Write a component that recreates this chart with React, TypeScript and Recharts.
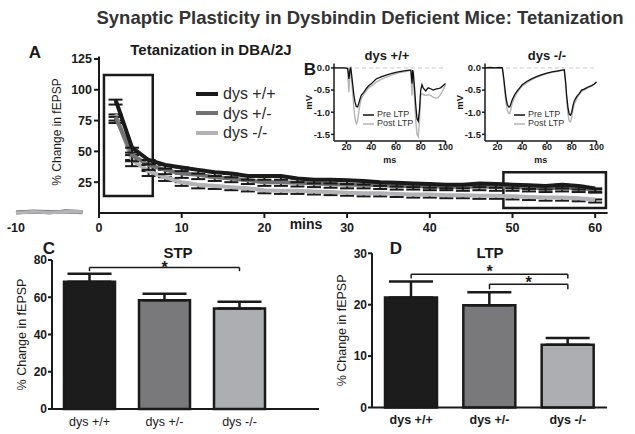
import type { ReactNode } from 'react'
import {
  LineChart, Line, BarChart, Bar, Cell, XAxis, YAxis,
  ErrorBar, ReferenceLine, ReferenceArea, Legend,
} from 'recharts'

const FONT = '"Liberation Sans", Arial, Helvetica, sans-serif'
const INK = '#1a1a1a'

// Panel A: % change in fEPSP, baseline (before tetanus) and after tetanus, minutes
const BASE_MINUTES = [-10, -8, -6, -4, -2]
const WT_BASE = [0.5, 1, 0.5, 1.5, 1]
const HET_BASE = [0.5, 1.5, 1, 1, 0.5]
const KO_BASE = [0, 1, 0.5, 1, 1]

const MINUTES = [2, 4, 6, 8, 10, 12, 14, 16, 18, 20, 22, 24, 26, 28, 30, 32, 34, 36, 38, 40, 42, 44, 46, 48, 50, 52, 54, 56, 58, 60]
const WT_CHANGE = [92, 53, 43, 39, 37, 35, 33, 32, 30, 30, 30, 28, 27, 27, 26.5, 26, 25, 24.5, 24, 23.5, 23, 23, 24, 23.5, 23, 22.5, 22, 23, 22, 20]
const HET_CHANGE = [78, 47, 39, 35, 32, 31, 29, 28, 26.5, 25, 25, 24.5, 24, 23.5, 23, 23, 22.5, 22, 22, 21.5, 21.5, 21, 21.5, 21, 21, 20.5, 20, 20.5, 20, 19]
const KO_CHANGE = [80, 43, 34, 29, 25, 23, 22, 21, 20, 18.5, 18, 18, 17.5, 17, 16.5, 16, 16, 15.5, 15, 15, 14.5, 14.5, 14, 14, 13.5, 13, 12.5, 12.5, 12, 11]
const WT_SEM = [4, 4, 3.5, 3, 3, 3, 3, 3, 3, 3, 3, 3, 3, 3, 3, 3, 3, 3, 3, 3, 3, 3, 3, 3, 3, 3, 3, 3, 3, 3]
const HET_SEM = [5, 5, 4, 3.5, 3.5, 3.5, 3, 3, 3, 3, 3, 3, 3, 3, 3, 3, 3, 3, 3, 3, 3, 3, 3, 3, 3, 3, 3, 3, 3, 2.5]
const KO_SEM = [5, 5, 4, 3, 3, 3, 2.5, 2.5, 2.5, 2.5, 2.5, 2.5, 2.5, 2.5, 2.5, 2.5, 2.5, 2.5, 2.5, 2.5, 2.5, 2.5, 2.5, 2.5, 2.5, 2.5, 2.5, 2.5, 2.5, 2.5]
const A_X_TICKS = [0, 10, 20, 30, 40, 50, 60]
const A_Y_TICKS = [25, 50, 75, 100, 125]

// Panel B: example traces (ms, mV)
const WT_TRACE_MS = [10, 14, 18, 21, 21.5, 22, 22.5, 23, 23.5, 24, 25, 26, 27, 28, 29, 30, 31, 32, 34, 36, 38, 40, 44, 48, 52, 56, 60, 64, 68, 71, 72, 72.5, 73, 73.5, 74, 75, 76, 77, 78, 79, 80, 81, 82, 84, 86, 88, 90, 92, 94, 96, 98, 100]
const WT_PRE = [0, 0, 0, -0.01, -0.1, -0.25, -0.15, -0.02, 0, -0.1, -0.35, -0.6, -0.78, -0.87, -0.88, -0.8, -0.7, -0.62, -0.55, -0.47, -0.4, -0.36, -0.25, -0.2, -0.16, -0.13, -0.1, -0.08, -0.06, -0.05, -0.05, -0.2, -0.35, -0.05, -0.1, -0.45, -0.85, -1.15, -1.2, -0.95, -0.5, -0.38, -0.45, -0.52, -0.45, -0.47, -0.5, -0.48, -0.47, -0.45, -0.4, -0.35]
const WT_POST = [0, 0, 0, -0.02, -0.3, -0.55, -0.3, -0.05, 0, -0.2, -0.55, -0.9, -1.15, -1.26, -1.2, -1.0, -0.82, -0.7, -0.6, -0.52, -0.45, -0.41, -0.32, -0.26, -0.21, -0.17, -0.13, -0.1, -0.08, -0.06, -0.06, -0.35, -0.62, -0.1, -0.2, -0.7, -1.2, -1.5, -1.55, -1.2, -0.62, -0.58, -0.6, -0.62, -0.6, -0.62, -0.66, -0.68, -0.67, -0.6, -0.5, -0.38]
const KO_TRACE_MS = [10, 14, 18, 22, 24, 25, 26, 27, 28, 29, 30, 31, 32, 34, 36, 38, 40, 44, 48, 52, 56, 60, 64, 68, 72, 74, 75, 76, 77, 78, 79, 80, 81, 82, 84, 86, 88, 90, 92, 94, 96, 98, 100]
const KO_PRE = [0, 0.01, 0, 0.01, 0, -0.2, -0.45, -0.68, -0.82, -0.88, -0.88, -0.8, -0.72, -0.6, -0.52, -0.45, -0.38, -0.3, -0.24, -0.19, -0.15, -0.12, -0.09, -0.07, -0.05, -0.04, -0.3, -0.65, -0.9, -1.05, -1.07, -1.0, -0.85, -0.75, -0.65, -0.58, -0.5, -0.48, -0.45, -0.42, -0.4, -0.37, -0.32]
const KO_POST = [0, 0, 0, 0, 0, -0.25, -0.55, -0.8, -0.95, -1.02, -1.03, -0.92, -0.8, -0.66, -0.56, -0.48, -0.41, -0.33, -0.26, -0.21, -0.17, -0.13, -0.1, -0.08, -0.06, -0.05, -0.35, -0.75, -1.05, -1.2, -1.22, -1.12, -0.95, -0.82, -0.7, -0.6, -0.53, -0.5, -0.47, -0.44, -0.41, -0.37, -0.31]

// Panels C and D: bar summaries
const GENOTYPES = ['dys +/+', 'dys +/-', 'dys -/-']
const GENO_COLORS = ['#1c1c1c', '#79797b', '#adaeb1']
const STP_MEAN = [68.3, 58.4, 54]
const STP_SEM = [4.3, 3.5, 3.6]
const LTP_MEAN = [21.4, 19.9, 12.2]
const LTP_SEM = [3.1, 2.5, 1.3]

const SERIES = [
  { key: 'wt', name: 'dys +/+', color: '#1a1a1a' },
  { key: 'het', name: 'dys +/-', color: '#727274' },
  { key: 'ko', name: 'dys -/-', color: '#b3b3b5' },
]

const baseRows = BASE_MINUTES.map((t, i) => ({ t, wt: WT_BASE[i], het: HET_BASE[i], ko: KO_BASE[i] }))
// error bars drawn downward only (upper half hides under the thick line)
const courseRows = MINUTES.map((t, i) => ({
  t,
  wt: WT_CHANGE[i], het: HET_CHANGE[i], ko: KO_CHANGE[i],
  wtErr: [WT_SEM[i], 0], hetErr: [HET_SEM[i], 0], koErr: [KO_SEM[i], 0],
}))
const wtTrace = WT_TRACE_MS.map((t, i) => ({ t, pre: WT_PRE[i], post: WT_POST[i] }))
const koTrace = KO_TRACE_MS.map((t, i) => ({ t, pre: KO_PRE[i], post: KO_POST[i] }))
const stpRows = GENOTYPES.map((g, i) => ({ g, mean: STP_MEAN[i], err: [0, STP_SEM[i]] }))
const ltpRows = GENOTYPES.map((g, i) => ({ g, mean: LTP_MEAN[i], err: [0, LTP_SEM[i]] }))

function Txt({ x, y, size, bold, rotate, color, children }: {
  x: number; y: number; size: number; bold?: boolean; rotate?: number; color?: string; children: ReactNode
}) {
  return (
    <div style={{
      position: 'absolute', left: x, top: y, fontSize: size, lineHeight: 1,
      fontWeight: bold ? 'bold' : 'normal', color: color || INK, whiteSpace: 'nowrap',
      transform: `translate(-50%, -50%) rotate(${rotate || 0}deg)`,
    }}>
      {children}
    </div>
  )
}

function MinuteTick(props: any) {
  const { x, y, payload } = props
  return (
    <text x={x} y={y} dy={12} textAnchor="middle" fontSize={12.5} fontWeight="bold" fill={INK}>
      {payload.value}
    </text>
  )
}

function PercentTick(props: any) {
  const { x, y, payload } = props
  return (
    <text x={x} y={y} dy={4.5} textAnchor="end" fontSize={12.5} fontWeight="bold" fill={INK}>
      {payload.value}
    </text>
  )
}

function CourseLegend() {
  return (
    <div>
      {SERIES.map((s) => (
        <div key={s.key} style={{ display: 'flex', alignItems: 'center', height: 19.5, lineHeight: '19.5px' }}>
          <svg width={27} height={8}><line x1={0} x2={22} y1={4} y2={4} stroke={s.color} strokeWidth={4} /></svg>
          <span style={{ fontSize: 16, color: '#2a2a2a' }}>{s.name}</span>
        </div>
      ))}
    </div>
  )
}

function TraceLegend() {
  return (
    <div>
      {[['Pre LTP', '#111'], ['Post LTP', '#b5b5b5']].map(([label, c]) => (
        <div key={label} style={{ display: 'flex', alignItems: 'center', height: 9, lineHeight: '9px' }}>
          <svg width={14} height={4}><line x1={0} x2={11} y1={2} y2={2} stroke={c} strokeWidth={1.5} /></svg>
          <span style={{ fontSize: 9, color: '#333' }}>{label}</span>
        </div>
      ))}
    </div>
  )
}

function TraceChart({ rows, left }: { rows: any[]; left: number }) {
  return (
    <div style={{ position: 'absolute', left, top: 55 }}>
      <LineChart width={158} height={118} data={rows} margin={{ top: 8.5, right: 12.5, bottom: 2, left: 6 }}>
        <XAxis
          type="number" dataKey="t" domain={[10, 100]} ticks={[20, 40, 60, 80, 100]}
          tickSize={3} tickMargin={0} height={30} interval={0}
          axisLine={{ stroke: INK, strokeWidth: 1.5 }} tickLine={{ stroke: INK, strokeWidth: 1.5 }}
          tick={{ fontSize: 9, fontWeight: 'bold', fill: INK }}
          label={{ value: 'ms', position: 'insideBottom', offset: 8, fontSize: 9, fontWeight: 'bold', fill: INK }}
        />
        <YAxis
          type="number" domain={[-1.65, 0.1]} ticks={[-1.5, -1, -0.5, 0]} interval={0}
          tickFormatter={(v: number) => v.toFixed(1)} width={28} tickSize={3} tickMargin={1}
          axisLine={{ stroke: INK, strokeWidth: 1.5 }} tickLine={{ stroke: INK, strokeWidth: 1.5 }}
          tick={{ fontSize: 9.5, fontWeight: 'bold', fill: INK }}
          label={{ value: 'mV', angle: -90, position: 'insideLeft', offset: 3, fontSize: 9.5, fontWeight: 'bold', fill: INK, style: { textAnchor: 'middle' } }}
        />
        <ReferenceLine y={0} stroke="#c8c8c8" strokeDasharray="4 3" />
        <Line dataKey="post" stroke="#b5b5b5" strokeWidth={1.4} dot={false} isAnimationActive={false} />
        <Line dataKey="pre" stroke="#111" strokeWidth={1.3} dot={false} isAnimationActive={false} />
        <Legend
          layout="vertical" align="center" verticalAlign="middle" content={() => <TraceLegend />}
          wrapperStyle={{ left: 63, top: 55, width: 'auto', right: 'auto', bottom: 'auto' }}
        />
      </LineChart>
    </div>
  )
}

const yTickStyle = { fontSize: 12, fontWeight: 'bold', fill: INK }
const starLabel = (offset: number) => ({ value: '*', position: 'top' as const, offset, fontSize: 16, fontWeight: 'bold', fill: INK })

export default function App() {
  return (
    <div style={{ position: 'absolute', left: 0, top: 0, width: 635, height: 434, background: '#fff', fontFamily: FONT }}>
      {/* A, baseline minutes left of the y axis (same y scale as the main panel) */}
      <div style={{ position: 'absolute', left: 0, top: 0 }}>
        <LineChart width={99} height={245} data={baseRows} margin={{ top: 56.5, right: 0, bottom: 2, left: 16 }}>
          <XAxis
            type="number" dataKey="t" domain={[-10, 0]} ticks={[-10]} interval={0}
            axisLine={false} tickLine={false} tickSize={5} tickMargin={2} height={30}
            tick={<MinuteTick />}
          />
          <YAxis hide type="number" domain={[0, 127]} />
          {SERIES.map((s) => (
            <Line key={s.key} type="linear" dataKey={s.key} stroke={s.color} strokeWidth={3.5} dot={false} isAnimationActive={false} />
          ))}
        </LineChart>
      </div>

      {/* A: time course after tetanus */}
      <div style={{ position: 'absolute', left: 0, top: 0 }}>
        <LineChart width={635} height={245} data={courseRows} margin={{ top: 56.5, right: 27.4, bottom: 2, left: 69 }}>
          <XAxis
            type="number" dataKey="t" domain={[0, 61.5]} ticks={A_X_TICKS} interval={0}
            axisLine={{ stroke: INK, strokeWidth: 2 }} tickLine={{ stroke: INK, strokeWidth: 2 }}
            tickSize={5} tickMargin={2} height={30} tick={<MinuteTick />}
          />
          <YAxis
            type="number" domain={[0, 127]} ticks={A_Y_TICKS} interval={0} width={30} tickSize={5} tickMargin={2}
            axisLine={{ stroke: INK, strokeWidth: 2 }} tickLine={{ stroke: INK, strokeWidth: 2 }}
            tick={<PercentTick />}
          />
          <ReferenceArea x1={0.6} x2={6.5} y1={13.7} y2={112} fill="none" stroke={INK} strokeWidth={2.5} />
          <ReferenceArea x1={48.9} x2={61.3} y1={4} y2={33} fill="none" stroke={INK} strokeWidth={2.5} />
          {[...SERIES].reverse().map((s) => (
            <Line key={s.key} type="linear" dataKey={s.key} stroke={s.color} strokeWidth={4} dot={false} isAnimationActive={false}>
              <ErrorBar dataKey={`${s.key}Err`} direction="y" width={7} strokeWidth={2} stroke={INK} />
            </Line>
          ))}
          <Legend
            layout="vertical" align="center" verticalAlign="middle" content={() => <CourseLegend />}
            wrapperStyle={{ left: 196, top: 84, width: 'auto', right: 'auto', bottom: 'auto' }}
          />
        </LineChart>
      </div>

      {/* B: example traces */}
      <TraceChart rows={wtTrace} left={300} />
      <TraceChart rows={koTrace} left={451} />

      {/* C: STP */}
      <div style={{ position: 'absolute', left: 0, top: 240 }}>
        <BarChart width={330} height={194} data={stpRows} margin={{ top: 20, right: 11, bottom: 3, left: 14 }}>
          <XAxis
            dataKey="g" tickLine={false} height={22} padding={{ left: 0, right: 42 }} interval={0}
            axisLine={{ stroke: INK, strokeWidth: 2 }} tick={{ fontSize: 12.5, fill: INK }}
          />
          <YAxis
            type="number" domain={[0, 80]} ticks={[0, 20, 40, 60, 80]} interval={0} width={38} tickSize={4} tickMargin={1}
            axisLine={{ stroke: INK, strokeWidth: 2 }} tickLine={{ stroke: INK, strokeWidth: 2 }} tick={yTickStyle}
            label={{ value: '% Change in fEPSP', angle: -90, position: 'insideLeft', offset: 8, fontSize: 12.5, fill: INK, style: { textAnchor: 'middle' } }}
          />
          <Bar dataKey="mean" barSize={51} stroke={INK} strokeWidth={2.5} isAnimationActive={false}>
            {stpRows.map((r, i) => <Cell key={r.g} fill={GENO_COLORS[i]} />)}
            <ErrorBar dataKey="err" direction="y" width={22} strokeWidth={2.5} stroke={INK} />
          </Bar>
          <ReferenceLine segment={[{ x: GENOTYPES[0], y: 76 }, { x: GENOTYPES[2], y: 76 }]} stroke={INK} strokeWidth={1.5} label={starLabel(-6)} />
          <ReferenceLine segment={[{ x: GENOTYPES[0], y: 76 }, { x: GENOTYPES[0], y: 74 }]} stroke={INK} strokeWidth={1.5} />
          <ReferenceLine segment={[{ x: GENOTYPES[2], y: 76 }, { x: GENOTYPES[2], y: 74 }]} stroke={INK} strokeWidth={1.5} />
        </BarChart>
      </div>

      {/* D: LTP */}
      <div style={{ position: 'absolute', left: 320, top: 240 }}>
        <BarChart width={315} height={194} data={ltpRows} margin={{ top: 13.3, right: 28, bottom: 4.5, left: 14 }}>
          <XAxis
            dataKey="g" tickLine={false} height={22} interval={0}
            axisLine={{ stroke: INK, strokeWidth: 2 }} tick={{ fontSize: 12.5, fontWeight: 'bold', fill: INK }}
          />
          <YAxis
            type="number" domain={[0, 30]} ticks={[0, 10, 20, 30]} interval={0} width={38} tickSize={4} tickMargin={1}
            axisLine={{ stroke: INK, strokeWidth: 2 }} tickLine={{ stroke: INK, strokeWidth: 2 }} tick={yTickStyle}
            label={{ value: '% Change in fEPSP', angle: -90, position: 'insideLeft', offset: 8, fontSize: 12.5, fill: INK, style: { textAnchor: 'middle' } }}
          />
          <Bar dataKey="mean" barSize={52} stroke={INK} strokeWidth={2.5} isAnimationActive={false}>
            {ltpRows.map((r, i) => <Cell key={r.g} fill={GENO_COLORS[i]} />)}
            <ErrorBar dataKey="err" direction="y" width={22} strokeWidth={2.5} stroke={INK} />
          </Bar>
          <ReferenceLine segment={[{ x: GENOTYPES[0], y: 25.9 }, { x: GENOTYPES[2], y: 25.9 }]} stroke={INK} strokeWidth={1.5} label={starLabel(-3)} />
          <ReferenceLine segment={[{ x: GENOTYPES[0], y: 25.9 }, { x: GENOTYPES[0], y: 25.1 }]} stroke={INK} strokeWidth={1.5} />
          <ReferenceLine segment={[{ x: GENOTYPES[2], y: 25.9 }, { x: GENOTYPES[2], y: 25.1 }]} stroke={INK} strokeWidth={1.5} />
          <ReferenceLine segment={[{ x: GENOTYPES[1], y: 24 }, { x: GENOTYPES[2], y: 24 }]} stroke={INK} strokeWidth={1.5} label={starLabel(-4)} />
          <ReferenceLine segment={[{ x: GENOTYPES[1], y: 24 }, { x: GENOTYPES[1], y: 23 }]} stroke={INK} strokeWidth={1.5} />
          <ReferenceLine segment={[{ x: GENOTYPES[2], y: 24 }, { x: GENOTYPES[2], y: 23 }]} stroke={INK} strokeWidth={1.5} />
        </BarChart>
      </div>

      {/* titles and panel letters */}
      <Txt x={360} y={18} size={18.5} bold color="#333">Synaptic Plasticity in Dysbindin Deficient Mice: Tetanization</Txt>
      <Txt x={35} y={52} size={17} bold>A</Txt>
      <Txt x={211} y={49} size={15} bold>Tetanization in DBA/2J</Txt>
      <Txt x={57} y={132} size={12} rotate={-90}>% Change in fEPSP</Txt>
      <Txt x={306} y={224} size={14} bold>mins</Txt>
      <Txt x={310} y={69} size={17} bold>B</Txt>
      <Txt x={387} y={55} size={13} bold>dys +/+</Txt>
      <Txt x={547} y={55} size={13} bold>dys -/-</Txt>
      <Txt x={49} y={248} size={17} bold>C</Txt>
      <Txt x={178} y={252} size={15} bold>STP</Txt>
      <Txt x={396} y={248} size={17} bold>D</Txt>
      <Txt x={490} y={252} size={15} bold>LTP</Txt>
    </div>
  )
}
